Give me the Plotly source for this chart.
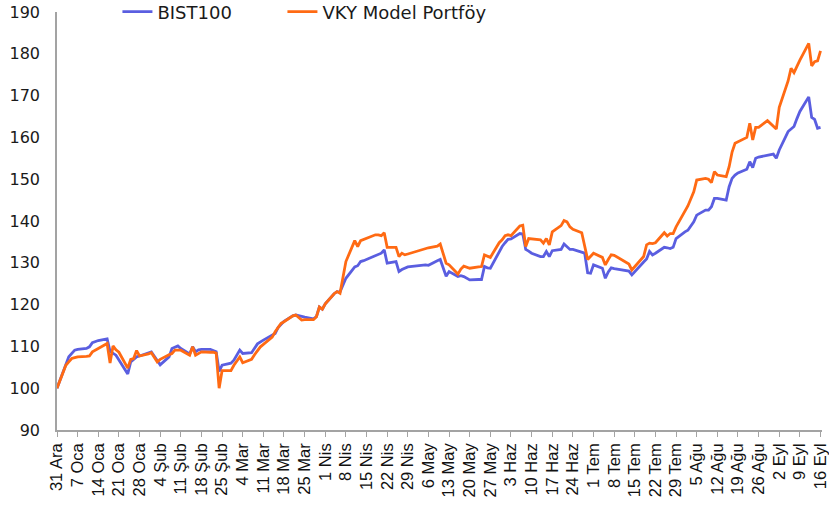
import plotly.graph_objects as go
import pandas as pd

# ---------------- data ----------------
bist_dates = [
    "2021-12-31", "2022-01-03", "2022-01-04", "2022-01-06", "2022-01-07", "2022-01-10", "2022-01-11",
    "2022-01-12", "2022-01-14", "2022-01-17", "2022-01-18", "2022-01-20", "2022-01-24", "2022-01-25",
    "2022-01-27", "2022-01-28", "2022-02-01", "2022-02-04", "2022-02-07", "2022-02-08", "2022-02-09",
    "2022-02-10", "2022-02-11", "2022-02-14", "2022-02-15", "2022-02-16", "2022-02-17", "2022-02-18",
    "2022-02-21", "2022-02-22", "2022-02-23", "2022-02-24", "2022-02-25", "2022-02-28", "2022-03-01",
    "2022-03-03", "2022-03-04", "2022-03-07", "2022-03-09", "2022-03-11", "2022-03-14", "2022-03-15",
    "2022-03-16", "2022-03-17", "2022-03-18", "2022-03-21", "2022-03-22", "2022-03-24", "2022-03-25",
    "2022-03-28", "2022-03-29", "2022-03-30", "2022-03-31", "2022-04-01", "2022-04-04", "2022-04-05",
    "2022-04-06", "2022-04-08", "2022-04-11", "2022-04-12", "2022-04-13", "2022-04-14", "2022-04-15",
    "2022-04-18", "2022-04-19", "2022-04-20", "2022-04-21", "2022-04-22", "2022-04-25", "2022-04-26",
    "2022-04-27", "2022-04-28", "2022-04-29", "2022-05-05", "2022-05-06", "2022-05-09", "2022-05-10",
    "2022-05-12", "2022-05-13", "2022-05-16", "2022-05-17", "2022-05-18", "2022-05-20", "2022-05-23",
    "2022-05-24", "2022-05-25", "2022-05-26", "2022-05-27", "2022-05-30", "2022-05-31", "2022-06-01",
    "2022-06-02", "2022-06-03", "2022-06-06", "2022-06-07", "2022-06-08", "2022-06-09", "2022-06-10",
    "2022-06-13", "2022-06-14", "2022-06-15", "2022-06-16", "2022-06-17", "2022-06-20", "2022-06-21",
    "2022-06-22", "2022-06-23", "2022-06-24", "2022-06-27", "2022-06-28", "2022-06-29", "2022-06-30",
    "2022-07-01", "2022-07-04", "2022-07-05", "2022-07-06", "2022-07-07", "2022-07-08", "2022-07-13",
    "2022-07-14", "2022-07-18", "2022-07-19", "2022-07-20", "2022-07-21", "2022-07-22", "2022-07-25",
    "2022-07-26", "2022-07-27", "2022-07-28", "2022-07-29", "2022-08-01", "2022-08-02", "2022-08-04",
    "2022-08-05", "2022-08-08", "2022-08-09", "2022-08-10", "2022-08-11", "2022-08-12", "2022-08-15",
    "2022-08-16", "2022-08-17", "2022-08-18", "2022-08-19", "2022-08-22", "2022-08-23", "2022-08-24",
    "2022-08-25", "2022-08-26", "2022-08-29", "2022-08-31", "2022-09-01", "2022-09-02", "2022-09-05",
    "2022-09-06", "2022-09-07", "2022-09-08", "2022-09-09", "2022-09-12", "2022-09-13", "2022-09-14",
    "2022-09-15", "2022-09-16",
]
bist_values = [
    100.0, 105.8, 107.5, 109.1, 109.3, 109.5, 109.9,
    110.9, 111.4, 111.8, 108.8, 107.9, 103.4, 106.3,
    107.5, 107.7, 108.7, 105.6, 107.5, 109.5, 109.9,
    110.1, 109.5, 108.2, 109.9, 108.7, 109.2, 109.3,
    109.3, 109.0, 108.7, 104.0, 105.5, 106.0, 106.7,
    109.1, 108.3, 108.5, 110.6, 111.5, 112.8, 113.1,
    114.5, 115.2, 116.0, 117.3, 117.5, 117.2, 117.0,
    116.6, 117.1, 119.4, 118.9, 120.2, 122.6, 123.1,
    123.0, 126.3, 129.0, 129.3, 130.3, 130.5, 130.8,
    131.6, 132.0, 132.3, 133.1, 129.9, 130.3, 127.9,
    128.4, 128.8, 129.0, 129.5, 129.4, 130.5, 130.8,
    126.8, 127.9, 126.7, 126.9, 126.7, 125.9, 126.0,
    126.0, 129.1, 128.8, 128.7, 132.7, 133.9, 134.8,
    135.6, 135.7, 137.0, 136.9, 133.2, 132.8, 132.3,
    131.5, 131.5, 132.7, 131.5, 132.9, 133.2, 134.5,
    133.8, 133.2, 133.2, 132.5, 132.3, 127.6, 127.5,
    129.5, 128.7, 126.3, 127.8, 128.8, 128.6, 128.0,
    127.1, 130.2, 130.9, 132.7, 131.9, 132.3, 133.7,
    133.6, 133.4, 133.7, 135.8, 137.4, 137.8, 139.8,
    141.4, 142.6, 142.6, 143.4, 145.4, 145.4, 145.0,
    148.2, 150.2, 151.0, 151.5, 152.4, 154.2, 152.8,
    155.0, 155.3, 155.8, 156.0, 155.0, 157.0, 161.4,
    162.0, 162.6, 164.5, 166.2, 169.7, 164.8, 164.3,
    162.2, 162.4,
]

vky_dates = [
    "2021-12-31", "2022-01-03", "2022-01-04", "2022-01-05", "2022-01-06", "2022-01-07", "2022-01-10",
    "2022-01-11", "2022-01-12", "2022-01-13", "2022-01-14", "2022-01-17", "2022-01-18", "2022-01-19",
    "2022-01-20", "2022-01-21", "2022-01-24", "2022-01-25", "2022-01-26", "2022-01-27", "2022-01-28",
    "2022-01-31", "2022-02-01", "2022-02-03", "2022-02-04", "2022-02-07", "2022-02-08", "2022-02-09",
    "2022-02-10", "2022-02-11", "2022-02-14", "2022-02-15", "2022-02-16", "2022-02-17", "2022-02-18",
    "2022-02-21", "2022-02-22", "2022-02-23", "2022-02-24", "2022-02-25", "2022-02-28", "2022-03-01",
    "2022-03-02", "2022-03-03", "2022-03-04", "2022-03-07", "2022-03-08", "2022-03-09", "2022-03-10",
    "2022-03-11", "2022-03-14", "2022-03-15", "2022-03-16", "2022-03-17", "2022-03-18", "2022-03-21",
    "2022-03-22", "2022-03-23", "2022-03-24", "2022-03-25", "2022-03-28", "2022-03-29", "2022-03-30",
    "2022-03-31", "2022-04-01", "2022-04-04", "2022-04-05", "2022-04-06", "2022-04-08", "2022-04-11",
    "2022-04-12", "2022-04-13", "2022-04-14", "2022-04-15", "2022-04-18", "2022-04-19", "2022-04-20",
    "2022-04-21", "2022-04-22", "2022-04-25", "2022-04-26", "2022-04-27", "2022-04-28", "2022-04-29",
    "2022-05-05", "2022-05-06", "2022-05-09", "2022-05-10", "2022-05-12", "2022-05-13", "2022-05-16",
    "2022-05-17", "2022-05-18", "2022-05-20", "2022-05-23", "2022-05-24", "2022-05-25", "2022-05-26",
    "2022-05-27", "2022-05-30", "2022-05-31", "2022-06-01", "2022-06-02", "2022-06-03", "2022-06-06",
    "2022-06-07", "2022-06-08", "2022-06-09", "2022-06-10", "2022-06-13", "2022-06-14", "2022-06-15",
    "2022-06-16", "2022-06-17", "2022-06-20", "2022-06-21", "2022-06-22", "2022-06-23", "2022-06-24",
    "2022-06-27", "2022-06-29", "2022-06-30", "2022-07-01", "2022-07-04", "2022-07-05", "2022-07-06",
    "2022-07-07", "2022-07-08", "2022-07-13", "2022-07-14", "2022-07-18", "2022-07-19", "2022-07-20",
    "2022-07-21", "2022-07-22", "2022-07-25", "2022-07-26", "2022-07-27", "2022-07-28", "2022-07-29",
    "2022-08-01", "2022-08-02", "2022-08-04", "2022-08-05", "2022-08-08", "2022-08-09", "2022-08-10",
    "2022-08-11", "2022-08-12", "2022-08-15", "2022-08-16", "2022-08-17", "2022-08-18", "2022-08-19",
    "2022-08-22", "2022-08-23", "2022-08-24", "2022-08-25", "2022-08-26", "2022-08-29", "2022-08-31",
    "2022-09-01", "2022-09-02", "2022-09-05", "2022-09-06", "2022-09-07", "2022-09-08", "2022-09-09",
    "2022-09-12", "2022-09-13", "2022-09-14", "2022-09-15", "2022-09-16",
]
vky_values = [
    100.0, 105.5, 106.3, 107.1, 107.3, 107.5, 107.6,
    107.7, 108.7, 109.2, 109.5, 110.7, 106.0, 110.1,
    109.2, 108.6, 104.8, 106.9, 107.1, 109.0, 107.7,
    108.2, 108.5, 106.3, 106.9, 108.0, 108.3, 109.1,
    109.1, 109.1, 107.9, 109.9, 107.9, 108.4, 108.7,
    108.6, 108.6, 108.4, 100.0, 104.2, 104.2, 105.5,
    106.5, 107.5, 106.1, 106.9, 108.0, 109.0, 109.9,
    110.5, 112.2, 113.5, 114.5, 115.5, 115.9, 117.3,
    117.5, 117.0, 116.3, 116.4, 116.4, 117.1, 119.4,
    118.9, 120.2, 122.6, 123.1, 122.7, 130.3, 135.3,
    133.9, 135.3, 135.6, 135.9, 136.7, 136.7, 136.5,
    137.2, 133.7, 133.7, 131.5, 132.3, 131.9, 132.1,
    133.5, 133.6, 134.0, 134.5, 129.9, 129.5, 127.3,
    128.5, 129.2, 128.7, 129.0, 129.1, 131.9, 131.5,
    131.3, 134.8, 135.5, 136.5, 136.7, 136.5, 138.8,
    139.0, 133.9, 135.8, 135.7, 135.5, 134.7, 135.8,
    134.3, 137.4, 138.9, 140.1, 139.8, 138.6, 138.0,
    137.2, 130.8, 131.5, 132.3, 131.3, 129.5, 130.8,
    131.9, 131.8, 129.7, 128.3, 131.5, 134.3, 134.7,
    134.6, 134.8, 137.2, 136.4, 137.0, 137.0, 138.6,
    142.6, 143.6, 147.0, 149.8, 150.2, 150.0, 149.2,
    151.8, 151.0, 150.6, 153.0, 156.5, 158.6, 159.0,
    160.0, 163.4, 159.4, 162.4, 162.4, 164.0, 162.8,
    162.0, 167.2, 173.5, 176.5, 175.5, 177.0, 178.5,
    182.5, 177.1, 178.1, 178.3, 180.7,
]

tick_labels = [
    "31 Ara", "7 Oca", "14 Oca", "21 Oca", "28 Oca", "4 Şub", "11 Şub", "18 Şub", "25 Şub",
    "4 Mar", "11 Mar", "18 Mar", "25 Mar", "1 Nis", "8 Nis", "15 Nis", "22 Nis", "29 Nis",
    "6 May", "13 May", "20 May", "27 May", "3 Haz", "10 Haz", "17 Haz", "24 Haz",
    "1 Tem", "8 Tem", "15 Tem", "22 Tem", "29 Tem", "5 Ağu", "12 Ağu", "19 Ağu", "26 Ağu",
    "2 Eyl", "9 Eyl", "16 Eyl",
]
series_names = ["BIST100", "VKY Model Portföy"]

# ---------------- figure ----------------
tick_dates = pd.date_range("2021-12-31", periods=len(tick_labels), freq="7D")

fig = go.Figure()
fig.add_trace(go.Scatter(
    x=pd.to_datetime(bist_dates), y=bist_values, mode="lines", name=series_names[0],
    line=dict(color="#5a5ee0", width=2.8), legendwidth=120,
))
fig.add_trace(go.Scatter(
    x=pd.to_datetime(vky_dates), y=vky_values, mode="lines", name=series_names[1],
    line=dict(color="#ff6a13", width=2.8),
))

axis_grey = "#a3a3a3"
fig.update_layout(
    width=829, height=516,
    margin=dict(l=57, r=7, t=12, b=86, autoexpand=False),
    paper_bgcolor="white", plot_bgcolor="white",
    showlegend=True,
    legend=dict(
        orientation="h", x=0.079, xanchor="left", y=1.0, yanchor="middle",
        font=dict(family="DejaVu Sans", size=18, color="#1a1a1a"),
        bgcolor="rgba(0,0,0,0)",
    ),
    xaxis=dict(
        type="date",
        range=["2021-12-31", "2022-09-16 12:00"],
        tickmode="array", tickvals=tick_dates, ticktext=tick_labels,
        tickangle=-90,
        ticks="outside", ticklen=5, tickwidth=1.2, tickcolor=axis_grey,
        showline=True, linecolor=axis_grey, linewidth=1.5,
        showgrid=False, zeroline=False,
        tickfont=dict(family="Liberation Sans", size=16.5, color="#111111"),
    ),
    yaxis=dict(
        range=[90, 190], dtick=10, tick0=90,
        ticks="", showline=True, linecolor=axis_grey, linewidth=1.5,
        showgrid=False, zeroline=False,
        ticklabelstandoff=12, ticklabeloverflow="allow",
        tickfont=dict(family="DejaVu Sans", size=16, color="#1a1a1a"),
    ),
)

# remove the browser's default 8px body margin so the figure fills the window exactly
fig.write_html(
    "out.html",
    config={"displayModeBar": False},
    post_script="document.body.style.margin='0px';",
)
